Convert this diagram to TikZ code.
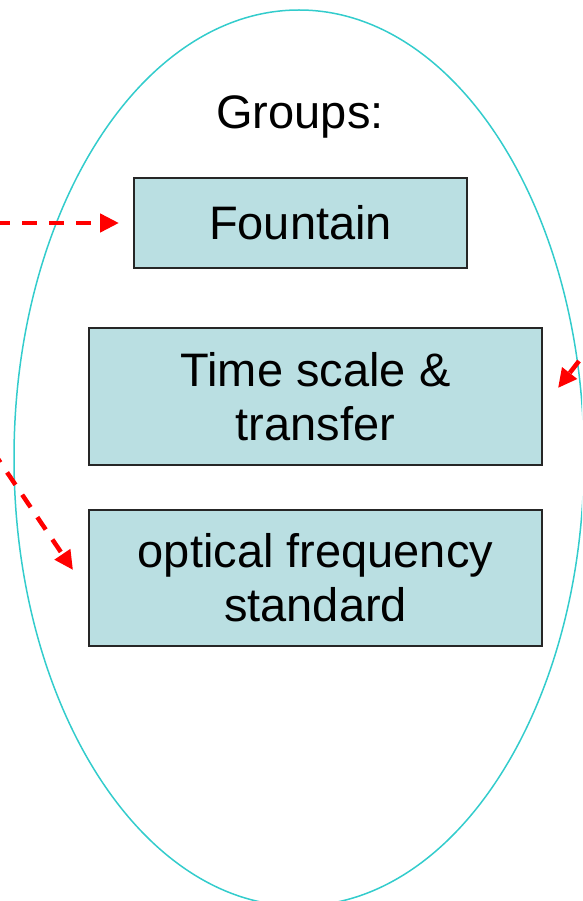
\documentclass[tikz,border=0pt]{standalone}
\usepackage{fontspec}
\setmainfont{Liberation Sans}
\usetikzlibrary{arrows.meta,shapes.geometric}
\definecolor{boxfill}{HTML}{BADFE2}
\definecolor{ellcol}{HTML}{33CCCC}
\definecolor{arrred}{HTML}{FF0000}
\begin{document}
\begin{tikzpicture}[x=1pt,y=-1pt,
  groupbox/.style={draw=black!85,line width=1.5pt,fill=boxfill,inner sep=0pt,
    align=center,font=\fontsize{47}{54}\selectfont},
  redarrow/.style={draw=arrred,line width=4.5pt,dash pattern=on 15pt off 12pt,
    -{Triangle[length=19pt,width=18pt]}}]
\useasboundingbox (0,0) rectangle (582,901);
\clip (0,0) rectangle (582,901);
\node[draw=ellcol,line width=1.5pt,ellipse,minimum width=570pt,minimum height=896pt,inner sep=0pt] (ell) at (299,458) {};
\node[font=\fontsize{47}{54}\selectfont] (title) at (300,117) {Groups:};
\node[groupbox,minimum width=333pt,minimum height=90pt] (fountain) at (300.5,223) {Fountain};
\node[groupbox,minimum width=453pt,minimum height=137pt] (timescale) at (315.5,396.5) {Time scale \&\\transfer};
\node[groupbox,minimum width=453pt,minimum height=136pt] (optical) at (315.5,578) {optical frequency\\standard};
\coordinate (a1) at (-5,223);
\coordinate (t1) at (119,223);
\coordinate (a2) at (-8,450);
\coordinate (t2) at (73,570);
\coordinate (a3) at (579,361);
\coordinate (t3) at (558,388);
\draw[redarrow] (a1) -- (t1);
\draw[redarrow] (a2) -- (t2);
\draw[redarrow] (a3) -- (t3);
\end{tikzpicture}
\end{document}
